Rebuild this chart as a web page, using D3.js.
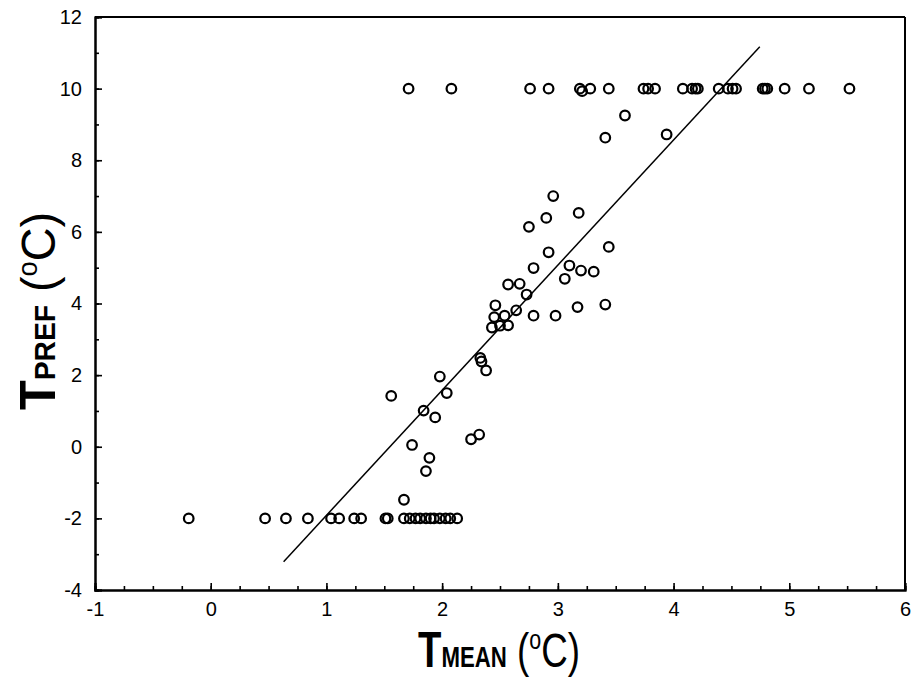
<!DOCTYPE html>
<html>
<head>
<meta charset="utf-8">
<script src="https://cdn.jsdelivr.net/npm/d3@7"></script>
<style>
  body { margin: 0; background: #fff; }
  svg text { font-family: "Liberation Sans Narrow", "Arial Narrow", "Liberation Sans", Arial, sans-serif; }
</style>
</head>
<body>
<script>
// points: T_MEAN (x) and T_PREF (y)
var lowX = [-0.19, 0.47, 0.65, 0.84, 1.04, 1.11, 1.24, 1.30, 1.51, 1.53, 1.67, 1.72, 1.77, 1.81, 1.86, 1.90, 1.93, 1.98, 2.03, 2.07, 2.13]
var lowY = lowX.map(function(){ return -2 })

var highX = [1.71, 2.08, 2.76, 2.92, 3.19, 3.21, 3.28, 3.44, 3.74, 3.78, 3.84, 4.08, 4.16, 4.19, 4.21, 4.39, 4.47, 4.51, 4.54, 4.77, 4.79, 4.81, 4.96, 5.17, 5.52]
var highY = [10, 10, 10, 10, 10, 9.93, 10, 10, 10, 10, 10, 10, 10, 10, 10, 10, 10, 10, 10, 10, 10, 10, 10, 10, 10]

var midX = [3.41, 3.58, 3.94, 2.96, 2.90, 3.18, 2.75, 3.44, 2.92, 2.79, 3.10, 3.20, 3.31, 3.06, 2.57, 2.67, 2.73, 2.46, 2.64, 2.79, 2.98, 3.17, 3.41, 2.45, 2.54, 2.43, 2.50, 2.57, 2.33, 2.34, 2.38, 1.98, 1.56, 2.04, 1.84, 1.94, 1.74, 1.89, 1.86, 2.25, 2.32, 1.67]
var midY = [8.63, 9.25, 8.72, 7.00, 6.39, 6.53, 6.14, 5.58, 5.43, 4.99, 5.06, 4.92, 4.89, 4.69, 4.53, 4.55, 4.25, 3.95, 3.81, 3.66, 3.66, 3.90, 3.97, 3.62, 3.66, 3.33, 3.38, 3.39, 2.48, 2.38, 2.13, 1.96, 1.42, 1.50, 1.01, 0.82, 0.05, -0.31, -0.68, 0.21, 0.34, -1.48]

// fitted line
var fitSlope = 3.494
var fitIntercept = -5.41
var fitRange = [0.63, 4.745]

var xTicks = [-1, 0, 1, 2, 3, 4, 5, 6]
var yTicks = [-4, -2, 0, 2, 4, 6, 8, 10, 12]

function draw() {
    var W = 913, H = 677
    var mLeft = 95, mRight = 905, mTop = 17, mBottom = 590
    var fontStack = '"Liberation Sans Narrow", "Arial Narrow", "Liberation Sans", Arial, sans-serif'

    var svg = d3.select("body").append("svg")
        .attr("width", W)
        .attr("height", H)

    var x = d3.scaleLinear().domain([-1, 6]).range([mLeft, mRight])
    var y = d3.scaleLinear().domain([-4, 12]).range([mBottom, mTop])

    // minor ticks
    svg.append("g")
        .attr("transform", "translate(0," + mBottom + ")")
        .call(d3.axisBottom(x).tickValues(d3.range(-1, 6.01, 0.25)).tickSize(-4).tickFormat(""))
    svg.append("g")
        .attr("transform", "translate(" + mLeft + ",0)")
        .call(d3.axisLeft(y).tickValues(d3.range(-4, 12.01, 1)).tickSize(-4).tickFormat(""))

    // major ticks + labels
    svg.append("g")
        .attr("transform", "translate(0," + mBottom + ")")
        .call(d3.axisBottom(x).tickValues(xTicks).tickSize(-7).tickPadding(12).tickFormat(function(d){ return String(d) }))
    svg.append("g")
        .attr("transform", "translate(" + mLeft + ",0)")
        .call(d3.axisLeft(y).tickValues(yTicks).tickSize(-7).tickPadding(13).tickFormat(function(d){ return String(d) }))

    svg.selectAll(".domain").attr("stroke", "#000").attr("stroke-width", 2)
    svg.selectAll(".tick line").attr("stroke", "#000").attr("stroke-width", 1.6)
    svg.selectAll(".tick text")
        .attr("fill", "#000")
        .style("font-size", "20px")
        .style("font-family", fontStack)

    // frame top and right
    svg.append("line").attr("x1", mLeft).attr("x2", mRight).attr("y1", mTop).attr("y2", mTop)
        .attr("stroke", "#000").attr("stroke-width", 2)
    svg.append("line").attr("x1", mRight).attr("x2", mRight).attr("y1", mTop).attr("y2", mBottom)
        .attr("stroke", "#000").attr("stroke-width", 2)

    // regression line
    svg.append("line")
        .attr("x1", x(fitRange[0]))
        .attr("y1", y(fitSlope * fitRange[0] + fitIntercept))
        .attr("x2", x(fitRange[1]))
        .attr("y2", y(fitSlope * fitRange[1] + fitIntercept))
        .attr("stroke", "#000")
        .attr("stroke-width", 1.5)

    // points
    var pts = []
    for (var i = 0; i < lowX.length; i++) pts.push([lowX[i], lowY[i]])
    for (var i = 0; i < highX.length; i++) pts.push([highX[i], highY[i]])
    for (var i = 0; i < midX.length; i++) pts.push([midX[i], midY[i]])

    svg.selectAll("circle.pt").data(pts).enter().append("circle")
        .attr("class", "pt")
        .attr("cx", function(d){ return x(d[0]) })
        .attr("cy", function(d){ return y(d[1]) })
        .attr("r", 4.8)
        .attr("fill", "none")
        .attr("stroke", "#000")
        .attr("stroke-width", 2.2)

    function title(sel, sub) {
        sel.append("tspan").style("font-size", "50px").attr("font-weight", "bold").text("T")
        sel.append("tspan").style("font-size", "29px").attr("font-weight", "bold").text(sub)
        sel.append("tspan").style("font-size", "48px").text(" (")
        sel.append("tspan").style("font-size", "28px").attr("dy", -18).text("o")
        sel.append("tspan").style("font-size", "48px").attr("dy", 18).text("C)")
    }

    // x title
    var xt = svg.append("text")
        .attr("x", 499)
        .attr("y", 667)
        .attr("text-anchor", "middle")
        .attr("textLength", 162)
        .attr("lengthAdjust", "spacingAndGlyphs")
        .attr("fill", "#000")
    title(xt, "MEAN")

    // y title
    var yt = svg.append("text")
        .attr("transform", "translate(55,311) rotate(-90)")
        .attr("text-anchor", "middle")
        .attr("textLength", 198)
        .attr("lengthAdjust", "spacingAndGlyphs")
        .attr("fill", "#000")
    title(yt, "PREF")
}
draw()
</script>
</body>
</html>
